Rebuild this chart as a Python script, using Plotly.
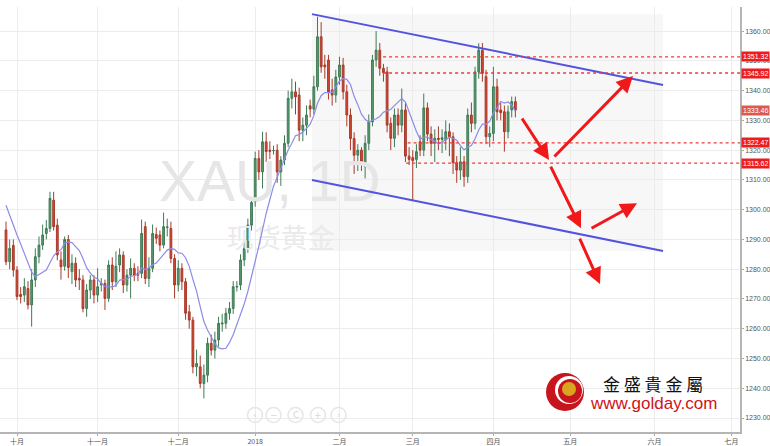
import numpy as np
import pandas as pd
import plotly.graph_objects as go

# ---------------- data ----------------
open_ = [1293.2, 1282.5, 1288.0, 1279.7, 1271.5, 1271.3, 1273.5, 1268.0, 1276.4, 1284.2,
         1288.1, 1292.0, 1293.7, 1303.2, 1294.8, 1283.1, 1281.0, 1290.0, 1279.2, 1282.0,
         1276.9, 1276.4, 1266.8, 1273.0, 1276.4, 1271.3, 1274.7, 1275.2, 1270.2, 1281.4,
         1275.8, 1281.4, 1284.7, 1274.7, 1278.0, 1280.3, 1278.6, 1278.6, 1294.3, 1276.9,
         1280.3, 1291.7, 1291.5, 1288.1, 1294.0, 1293.7, 1283.6, 1274.7, 1280.3, 1275.8,
         1265.7, 1262.9, 1247.2, 1247.2, 1241.6, 1244.4, 1255.1, 1252.8, 1256.2, 1261.6,
         1261.8, 1265.2, 1266.8, 1274.0, 1274.7, 1283.1, 1287.0, 1294.8, 1302.7, 1317.2,
         1312.7, 1322.8, 1320.0, 1319.8, 1320.0, 1312.7, 1316.7, 1322.3, 1337.4, 1339.6,
         1338.5, 1326.7, 1328.4, 1334.9, 1333.8, 1341.3, 1358.1, 1348.6, 1350.3, 1340.2,
         1338.5, 1344.6, 1348.6, 1339.6, 1331.8, 1323.9, 1318.3, 1320.0, 1314.4, 1322.3,
         1329.5, 1350.3, 1353.6, 1347.5, 1346.3, 1329.0, 1324.0, 1331.8, 1328.4, 1333.5,
         1318.0, 1317.5, 1316.9, 1322.8, 1320.0, 1334.2, 1325.4, 1322.3, 1324.0, 1323.6,
         1323.4, 1326.2, 1324.5, 1315.8, 1313.3, 1316.1, 1311.1, 1331.8, 1329.0, 1346.3,
         1353.6, 1344.7, 1324.5, 1325.6, 1341.3, 1333.5, 1332.9, 1326.2, 1333.5, 1336.3]
high_ = [1296.0, 1290.0, 1290.0, 1281.0, 1274.0, 1277.0, 1276.0, 1280.0, 1287.0, 1291.0,
         1295.0, 1296.5, 1306.0, 1306.0, 1297.0, 1286.0, 1291.0, 1291.5, 1285.0, 1284.0,
         1280.0, 1278.0, 1275.0, 1278.0, 1278.0, 1280.3, 1277.0, 1276.5, 1283.0, 1284.0,
         1286.0, 1287.0, 1286.0, 1280.0, 1283.6, 1282.0, 1281.0, 1296.7, 1296.0, 1284.0,
         1295.0, 1294.0, 1293.0, 1299.0, 1297.0, 1296.0, 1285.0, 1283.0, 1282.0, 1277.0,
         1268.0, 1264.0, 1253.0, 1251.0, 1248.0, 1257.0, 1258.0, 1259.0, 1264.0, 1265.0,
         1267.0, 1269.0, 1276.0, 1276.0, 1285.0, 1289.0, 1297.0, 1304.0, 1319.5, 1320.0,
         1326.2, 1326.0, 1323.0, 1321.5, 1322.0, 1318.0, 1325.0, 1340.0, 1344.0, 1343.0,
         1341.0, 1331.0, 1335.0, 1337.0, 1345.0, 1364.8, 1363.0, 1352.0, 1352.0, 1344.0,
         1347.0, 1351.4, 1351.0, 1342.0, 1334.0, 1326.0, 1322.0, 1321.0, 1325.0, 1332.0,
         1352.0, 1360.0, 1356.0, 1349.0, 1348.0, 1331.0, 1334.0, 1334.0, 1340.7, 1336.0,
         1321.0, 1320.0, 1322.0, 1325.0, 1339.0, 1336.0, 1328.0, 1327.0, 1328.0, 1327.0,
         1330.0, 1329.0, 1326.0, 1318.0, 1321.0, 1318.0, 1334.0, 1336.0, 1348.0, 1355.9,
         1356.0, 1347.0, 1328.0, 1348.0, 1344.0, 1336.0, 1335.0, 1335.0, 1338.0, 1338.0]
low_ = [1281.4, 1280.0, 1277.5, 1269.6, 1268.5, 1269.0, 1266.5, 1260.7, 1274.0, 1282.0,
        1286.5, 1290.0, 1292.5, 1293.0, 1283.0, 1276.5, 1279.5, 1277.0, 1275.0, 1274.0,
        1273.0, 1265.5, 1264.0, 1270.0, 1268.5, 1269.0, 1272.5, 1266.3, 1269.0, 1273.0,
        1274.0, 1279.0, 1272.0, 1272.5, 1270.2, 1276.0, 1276.0, 1277.0, 1275.0, 1274.0,
        1279.0, 1288.5, 1286.0, 1287.0, 1291.0, 1282.0, 1270.2, 1272.5, 1273.0, 1263.0,
        1260.0, 1245.0, 1244.0, 1240.0, 1236.6, 1242.0, 1251.0, 1250.0, 1254.0, 1259.0,
        1260.0, 1263.0, 1265.0, 1272.5, 1273.0, 1281.0, 1285.5, 1293.0, 1301.0, 1310.0,
        1307.1, 1316.0, 1317.0, 1318.5, 1309.0, 1308.0, 1315.0, 1321.0, 1334.0, 1332.0,
        1323.0, 1323.0, 1325.0, 1331.0, 1332.0, 1340.0, 1346.0, 1344.0, 1337.0, 1335.0,
        1336.0, 1342.0, 1337.0, 1328.0, 1320.0, 1312.0, 1313.0, 1313.0, 1310.5, 1320.0,
        1328.0, 1348.0, 1345.0, 1343.0, 1326.0, 1320.0, 1321.0, 1325.0, 1326.0, 1316.0,
        1315.0, 1303.0, 1314.0, 1318.0, 1318.0, 1323.0, 1318.0, 1316.0, 1320.0, 1319.0,
        1320.0, 1318.0, 1312.0, 1309.0, 1310.0, 1307.7, 1309.0, 1326.0, 1327.0, 1344.0,
        1343.0, 1322.0, 1321.0, 1323.0, 1330.0, 1330.0, 1319.5, 1324.0, 1331.0, 1331.0]
close_ = [1282.5, 1287.0, 1279.7, 1270.8, 1270.8, 1274.1, 1268.0, 1276.4, 1284.2, 1288.1,
          1291.5, 1293.7, 1303.8, 1294.3, 1284.8, 1280.8, 1290.0, 1280.6, 1282.0, 1276.4,
          1276.4, 1266.8, 1273.0, 1276.4, 1271.3, 1274.1, 1275.2, 1270.2, 1281.4, 1275.8,
          1281.0, 1284.8, 1274.7, 1278.0, 1280.3, 1278.0, 1278.0, 1292.0, 1276.9, 1280.3,
          1292.0, 1290.4, 1288.1, 1294.3, 1294.2, 1283.6, 1274.7, 1280.3, 1275.8, 1265.2,
          1262.9, 1247.2, 1248.3, 1241.6, 1244.4, 1255.1, 1252.8, 1256.2, 1261.8, 1261.9,
          1265.2, 1266.8, 1274.1, 1274.2, 1283.1, 1287.0, 1294.8, 1302.4, 1317.2, 1312.7,
          1322.8, 1319.5, 1319.6, 1319.9, 1312.7, 1316.7, 1322.3, 1337.4, 1339.6, 1337.9,
          1326.7, 1328.4, 1331.8, 1333.8, 1341.3, 1358.1, 1348.0, 1348.0, 1339.6, 1338.5,
          1344.6, 1348.6, 1339.6, 1331.8, 1323.9, 1318.3, 1320.0, 1316.1, 1322.3, 1329.5,
          1350.3, 1353.6, 1347.5, 1346.0, 1328.4, 1324.0, 1331.8, 1328.4, 1333.5, 1318.0,
          1316.9, 1316.5, 1319.5, 1320.0, 1334.2, 1325.4, 1322.3, 1324.0, 1323.6, 1324.2,
          1326.2, 1324.5, 1315.8, 1313.3, 1316.1, 1311.1, 1331.8, 1329.0, 1346.3, 1353.6,
          1345.8, 1324.5, 1325.6, 1341.3, 1332.9, 1332.6, 1326.2, 1332.9, 1336.3, 1333.46]
# first moving-average points (window not yet filled)
ma_head = [1301.5, 1298.0, 1294.5, 1291.5, 1288.5, 1285.5, 1282.0, 1279.0, 1277.5]

month_labels = ["十月", "十一月", "十二月", "2018", "二月", "三月", "四月", "五月", "六月", "七月"]
month_dates = ["2017-10-02", "2017-11-01", "2017-12-01", "2018-01-01", "2018-02-01",
               "2018-03-01", "2018-04-02", "2018-05-01", "2018-06-01", "2018-07-02"]
level_values = [1351.32, 1345.92, 1322.47, 1315.62]
level_start_bar = [102.9, 102.9, 109.6, 109.2]
last_price = 1333.46
y_ticks = [1230, 1240, 1250, 1260, 1270, 1280, 1290, 1300, 1310, 1320, 1330, 1340, 1350, 1360]

# channel (bar position, price)
upper_channel = [(83.5, 1365.7), (179.3, 1341.9)]
lower_channel = [(83.5, 1310.0), (179.3, 1286.1)]
# arrows: head (bar position, price), tail offset in px
arrows = [((148.2, 1316.7), (-28, -43)),
          ((171.1, 1344.9), (-80, 82)),
          ((156.9, 1293.8), (-31, -63)),
          ((172.2, 1302.2), (-47, 26)),
          ((162.1, 1275.0), (-21, -47))]

# ---------------- helpers ----------------
dates = pd.bdate_range("2017-09-27", periods=len(close_))
all_bd = pd.bdate_range("2017-09-27", "2018-08-31")


def bpos(i):
    k = int(np.floor(i))
    f = i - k
    return (all_bd[k] + pd.Timedelta(days=f)).strftime("%Y-%m-%d %H:%M:%S")


ma = pd.Series(close_).rolling(10).mean().tolist()
ma[:9] = ma_head

W, H = 770, 446
ML, MR, MT, MB = 0, 30, 7, 14
PW, PH = W - ML - MR, H - MT - MB


def px(x):
    return (x - ML) / PW


def py(y):
    return (H - MB - y) / PH


x_start = "2017-09-25 08:40:00"
x_end = bpos(200.3)

fig = go.Figure()

# watermark
fig.add_trace(go.Scatter(x=[bpos(72.0)], y=[1307.6], mode="text", text=["XAU, 1D"],
                         textfont=dict(size=57, color="#e6e6e6", family="Liberation Sans"),
                         hoverinfo="skip", showlegend=False))
fig.add_trace(go.Scatter(x=[bpos(75.0)], y=[1289.3], mode="text", text=["现货黄金"],
                         textfont=dict(size=27, color="#eaeaea", family="Noto Sans CJK SC"),
                         hoverinfo="skip", showlegend=False))

fig.add_trace(go.Candlestick(
    x=dates, open=open_, high=high_, low=low_, close=close_,
    increasing=dict(line=dict(color="#3e7b55", width=1), fillcolor="#5a9c6f"),
    decreasing=dict(line=dict(color="#a8392a", width=1), fillcolor="#d4472f"),
    showlegend=False, name="XAU"))

fig.add_trace(go.Scatter(x=dates, y=ma, mode="lines",
                         line=dict(color="#8c8ce8", width=1.2),
                         hoverinfo="skip", showlegend=False))

shapes = []
# shaded channel area
shapes.append(dict(type="rect", xref="x", yref="y", x0=bpos(upper_channel[0][0]),
                   x1=bpos(upper_channel[1][0]), y0=lower_channel[1][1], y1=upper_channel[0][1],
                   fillcolor="rgba(0,0,0,0.03)", line=dict(width=0), layer="below"))
for ch in (upper_channel, lower_channel):
    shapes.append(dict(type="line", xref="x", yref="y", x0=bpos(ch[0][0]), y0=ch[0][1],
                       x1=bpos(ch[1][0]), y1=ch[1][1], line=dict(color="#5353e0", width=2)))
for lv, st in zip(level_values, level_start_bar):
    shapes.append(dict(type="line", xref="x", yref="y", x0=bpos(st), x1=x_end, y0=lv, y1=lv,
                       line=dict(color="#f03a3a", width=1.3, dash="dot")))

# navigation buttons
nav_x = [255, 273.5, 295.5, 318, 338.5]
nav_sym = ["‹", "−", "C", "+", "›"]
for nx in nav_x:
    shapes.append(dict(type="circle", xref="paper", yref="paper",
                       x0=px(nx - 7.5), x1=px(nx + 7.5), y0=py(415 + 7.5), y1=py(415 - 7.5),
                       line=dict(color="#e6e6e6", width=1.5), fillcolor="rgba(255,255,255,0)"))

# logo
shapes.append(dict(type="circle", xref="paper", yref="paper", x0=px(546), x1=px(584),
                   y0=py(411), y1=py(373), fillcolor="#c8141c", line=dict(width=0)))
shapes.append(dict(type="circle", xref="paper", yref="paper", x0=px(555), x1=px(583),
                   y0=py(404), y1=py(376), fillcolor="#ffffff", line=dict(width=0)))
shapes.append(dict(type="circle", xref="paper", yref="paper", x0=px(558), x1=px(582),
                   y0=py(403), y1=py(379), fillcolor="#c8141c", line=dict(width=0)))
shapes.append(dict(type="circle", xref="paper", yref="paper", x0=px(562), x1=px(576),
                   y0=py(396), y1=py(382), fillcolor="#d9a521", line=dict(width=0)))

annotations = []
for nx, s in zip(nav_x, nav_sym):
    annotations.append(dict(x=px(nx), y=py(415), xref="paper", yref="paper", text=s,
                            xanchor="center", yanchor="middle",
                            showarrow=False, font=dict(size=9, color="#d8d8d8", family="DejaVu Sans")))

annotations.append(dict(x=px(653), y=py(383), xref="paper", yref="paper",
                        xanchor="center", yanchor="middle",
                        text="金 盛 貴 金 屬", showarrow=False,
                        font=dict(size=17, color="#111111", family="Noto Sans CJK TC")))
annotations.append(dict(x=px(653), y=py(403), xref="paper", yref="paper",
                        xanchor="center", yanchor="middle",
                        text="www.golday.com", showarrow=False,
                        font=dict(size=17, color="#d0121b", family="Liberation Sans")))

for (hx, hy), (ax, ay) in arrows:
    annotations.append(dict(x=bpos(hx), y=hy, xref="x", yref="y", text="", showarrow=True,
                            ax=ax, ay=ay, arrowhead=2, arrowsize=1.1, arrowwidth=3,
                            arrowcolor="#f01818"))

for lv in level_values:
    annotations.append(dict(x=1.0, y=lv, xref="paper", yref="y", xanchor="left",
                            yanchor="middle", xshift=1,
                            text=f"{lv:.2f}", showarrow=False, bgcolor="#ee1c1c",
                            font=dict(size=7, color="white", family="Liberation Sans"),
                            borderpad=1))
annotations.append(dict(x=1.0, y=last_price, xref="paper", yref="y", xanchor="left",
                        yanchor="middle", xshift=1,
                        text=f"{last_price:.2f}", showarrow=False, bgcolor="#dc5a4c",
                        font=dict(size=7, color="white", family="Liberation Sans"),
                        borderpad=1))

fig.update_layout(
    width=W, height=H, margin=dict(l=ML, r=MR, t=MT, b=MB, autoexpand=False),
    paper_bgcolor="white", plot_bgcolor="white",
    shapes=shapes, annotations=annotations, showlegend=False,
    xaxis=dict(type="date", range=[x_start, x_end], rangeslider=dict(visible=False),
               rangebreaks=[dict(bounds=["sat", "mon"])], automargin=False,
               tickvals=month_dates, ticktext=month_labels,
               tickfont=dict(size=7, color="#555555", family="Noto Sans CJK SC"),
               ticks="outside", ticklen=2, tickcolor="#aaaaaa", ticklabelstandoff=0,
               showgrid=True, gridcolor="#ececec", gridwidth=1,
               showline=True, linecolor="#b5b5b5", linewidth=1.5, zeroline=False),
    yaxis=dict(side="right", range=[1225.3, 1368.1], tickvals=y_ticks, automargin=False,
               ticktext=[f"{v:.2f}" for v in y_ticks],
               tickfont=dict(size=7, color="#555555", family="Liberation Sans"),
               ticks="outside", ticklen=2, tickcolor="#aaaaaa", ticklabelstandoff=0,
               showgrid=True, gridcolor="#ececec", gridwidth=1,
               showline=True, linecolor="#b5b5b5", linewidth=1.5, zeroline=False),
)

fig.write_html("out.html", config={"displayModeBar": False},
               post_script="document.body.style.margin='0';document.body.style.overflow='hidden';")
